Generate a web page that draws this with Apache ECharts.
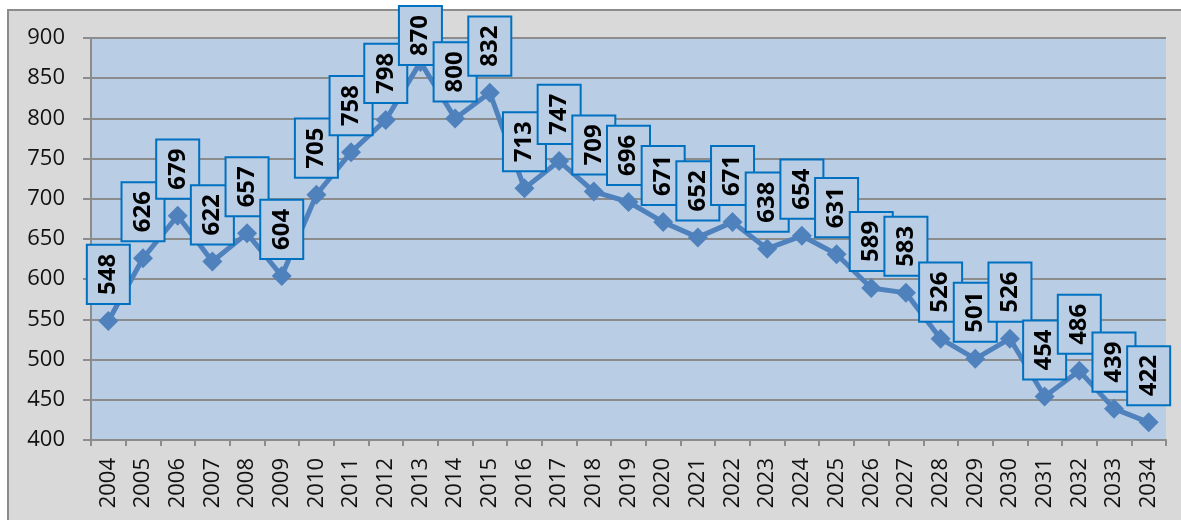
<!DOCTYPE html>
<html>
<head>
<meta charset="utf-8">
<script src="https://cdn.jsdelivr.net/npm/echarts@6/dist/echarts.min.js"></script>
<style>
  html, body { margin: 0; padding: 0; background: #ffffff; }
  #chart { width: 1181px; height: 520px; }
</style>
</head>
<body>
<div id="chart"></div>
<script>
// Yearly values, 2004–2034
const years = ['2004','2005','2006','2007','2008','2009','2010','2011','2012','2013','2014','2015',
  '2016','2017','2018','2019','2020','2021','2022','2023','2024','2025','2026','2027','2028',
  '2029','2030','2031','2032','2033','2034'];
const values = [548, 626, 679, 622, 657, 604, 705, 758, 798, 870, 800, 832,
  713, 747, 709, 696, 671, 652, 671, 638, 654, 631, 589, 583, 526,
  501, 526, 454, 486, 439, 422];
const yTicks = [400, 450, 500, 550, 600, 650, 700, 750, 800, 850, 900];

const FONT = '"Open Sans", "Noto Sans", sans-serif';
const PLOT_BG = '#b9cde5';

const chart = echarts.init(document.getElementById('chart'), null, { renderer: 'canvas' });

// labels near the top of the chart area are pulled down so the box stays inside
const seriesData = values.map(v => (v > 860 ? { value: v, label: { distance: -12 } } : v));

chart.setOption({
  animation: false,
  backgroundColor: '#ffffff',
  graphic: [{
    type: 'rect',
    z: -10,
    shape: { x: 8, y: 10, width: 1200, height: 540 },
    style: { fill: '#d9d9d9', stroke: '#8c8c8c', lineWidth: 2 }
  }],
  grid: { left: 91, right: 15, top: 38, bottom: 80, show: true, backgroundColor: PLOT_BG, borderWidth: 0 },
  xAxis: {
    type: 'category',
    data: years,
    boundaryGap: true,
    axisLine: { lineStyle: { color: '#8c8c8c', width: 2 } },
    axisTick: { show: true, length: 6, alignWithLabel: false, lineStyle: { color: '#8c8c8c', width: 2 } },
    axisLabel: { rotate: 90, margin: 18, fontSize: 22, color: '#111', fontFamily: FONT, interval: 0 },
    splitLine: { show: false }
  },
  yAxis: {
    type: 'value',
    min: yTicks[0],
    max: yTicks[yTicks.length - 1],
    interval: 50,
    axisLine: { show: true, lineStyle: { color: '#8c8c8c', width: 2 } },
    axisTick: { show: true, length: 8, lineStyle: { color: '#8c8c8c', width: 2 } },
    axisLabel: { margin: 26, fontSize: 22, color: '#111', fontFamily: FONT },
    splitLine: { show: true, lineStyle: { color: '#8c8c8c', width: 2 } }
  },
  series: [{
    type: 'line',
    data: seriesData,
    symbol: 'diamond',
    symbolSize: 20,
    lineStyle: { color: '#4f81bd', width: 5 },
    itemStyle: { color: '#4f81bd' },
    label: {
      show: true,
      position: 'top',
      distance: 8,
      rotate: 90,
      align: 'left',
      verticalAlign: 'middle',
      fontSize: 24,
      fontWeight: 'bold',
      fontFamily: FONT,
      color: '#000',
      lineHeight: 29,
      padding: [6, 8, 6, 8],
      backgroundColor: PLOT_BG,
      borderColor: '#0070c0',
      borderWidth: 2
    },
    labelLayout: { hideOverlap: false },
    z: 3
  }]
});
</script>
</body>
</html>
